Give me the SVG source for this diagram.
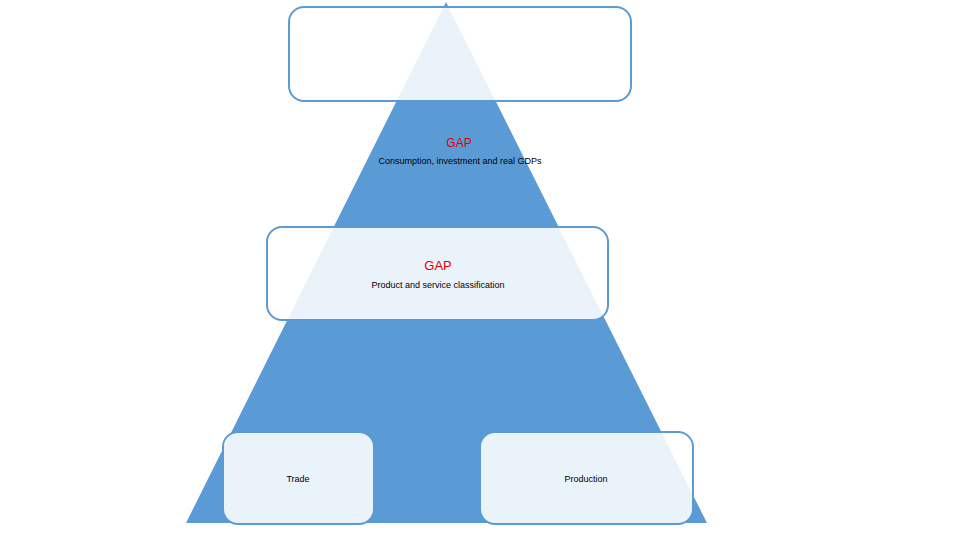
<svg xmlns="http://www.w3.org/2000/svg" width="960" height="540" viewBox="0 0 960 540">
<style>
.box{fill:#ffffff;fill-opacity:0.88;stroke:#5B9BD5;stroke-width:2}
text{font-family:"Liberation Sans",Arial,sans-serif;text-anchor:middle;fill:#000}
.gap{fill:#E00000;font-size:12px}
.s{font-size:9px}
</style>
<rect width="960" height="540" fill="#fff"/>
<g id="pyramid"><polygon points="446,2 186,523 707,523" fill="#5B9BD5"/></g>
<g id="connectors"></g>
<g id="top"><rect class="box" x="289" y="7" width="342" height="94" rx="15"/></g>
<g id="level1">
<text class="gap" x="459" y="147">GAP</text>
<text class="s" x="460" y="164">Consumption, investment and real GDPs</text>
</g>
<g id="level2"><rect class="box" x="267" y="227" width="341" height="93" rx="15"/>
<text class="gap" x="438" y="270" style="font-size:13px">GAP</text>
<text class="s" x="438" y="288">Product and service classification</text></g>
<g id="trade"><rect class="box" x="223" y="432" width="151" height="92" rx="15"/>
<text class="s" x="298" y="482">Trade</text></g>
<g id="production"><rect class="box" x="480" y="432" width="213" height="92" rx="15"/>
<text class="s" x="586" y="482">Production</text></g>
</svg>
